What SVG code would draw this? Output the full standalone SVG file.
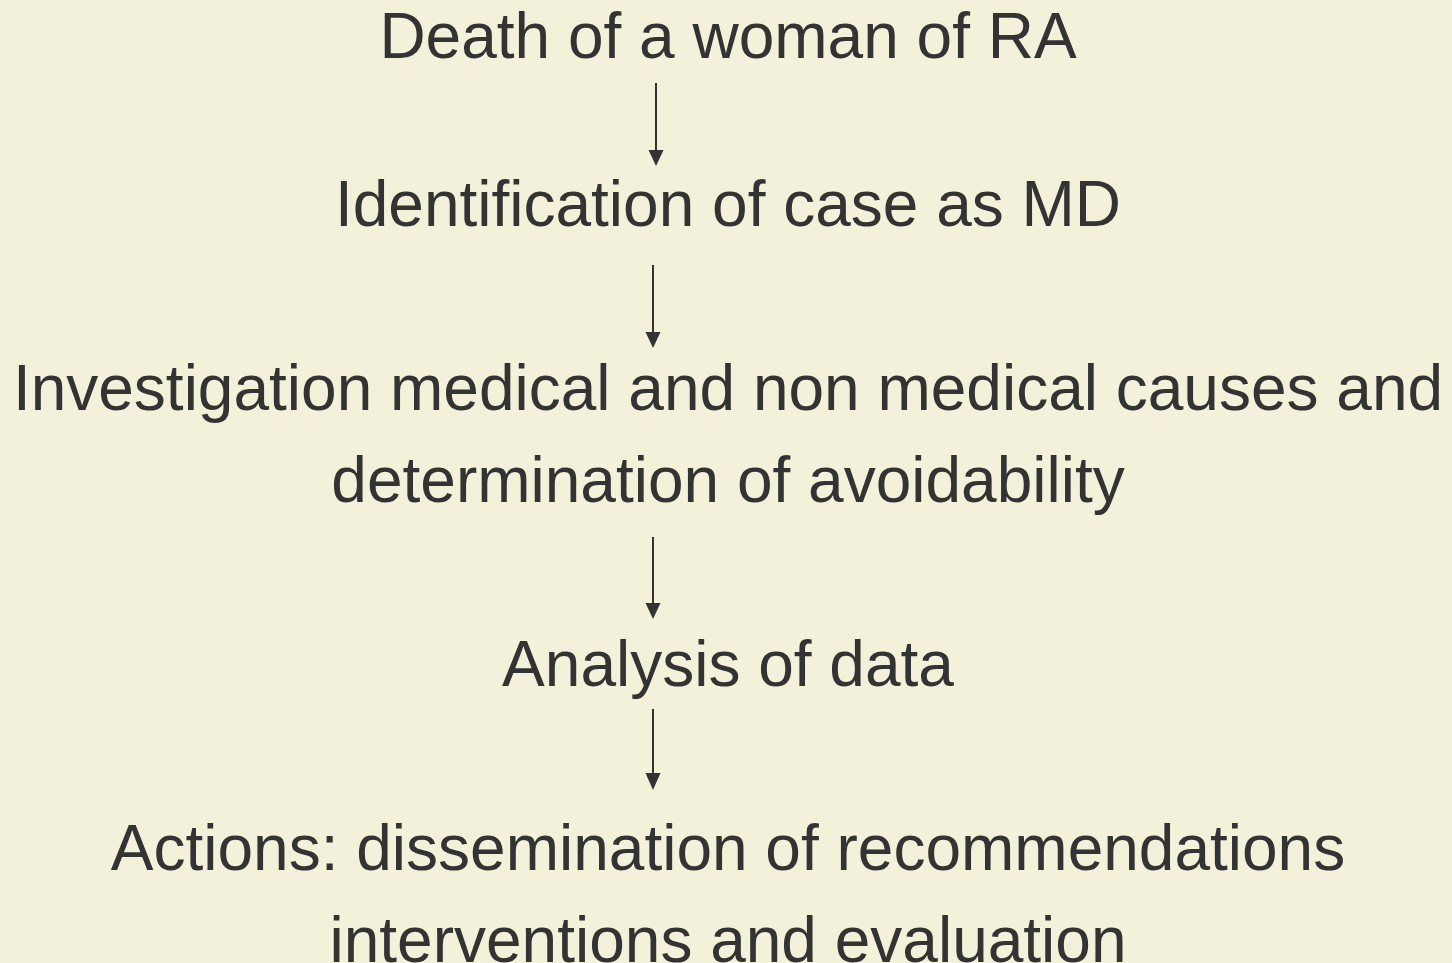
<svg xmlns="http://www.w3.org/2000/svg" width="1452" height="963" viewBox="0 0 1452 963">
<style>
.t{font-family:"Liberation Sans",Arial,sans-serif;font-size:64px;fill:#333333;text-anchor:middle}
.c{stroke:#333333;stroke-width:2;fill:none}
.h{fill:#333333}
</style>
<rect width="1452" height="963" fill="#F3F1D9"/>
<g id="n1"><text class="t" x="728" y="58">Death of a woman of RA</text></g>
<g id="n2"><text class="t" x="728" y="226">Identification of case as MD</text></g>
<g id="n3"><text class="t" x="728" y="410">Investigation medical and non medical causes and</text><text class="t" x="728" y="502">determination of avoidability</text></g>
<g id="n4"><text class="t" x="728" y="686">Analysis of data</text></g>
<g id="n5"><text class="t" x="728" y="870">Actions: dissemination of recommendations</text><text class="t" x="728" y="962">interventions and evaluation</text></g>
<g id="connectors">
<line class="c" x1="656" y1="83" x2="656" y2="152"/><polygon class="h" points="648.5,150 663.5,150 656,166"/>
<line class="c" x1="653" y1="265" x2="653" y2="334"/><polygon class="h" points="645.5,332 660.5,332 653,348"/>
<line class="c" x1="653" y1="537" x2="653" y2="605"/><polygon class="h" points="645.5,603 660.5,603 653,619"/>
<line class="c" x1="653" y1="709" x2="653" y2="775"/><polygon class="h" points="645.5,773 660.5,773 653,790"/>
</g>
</svg>
